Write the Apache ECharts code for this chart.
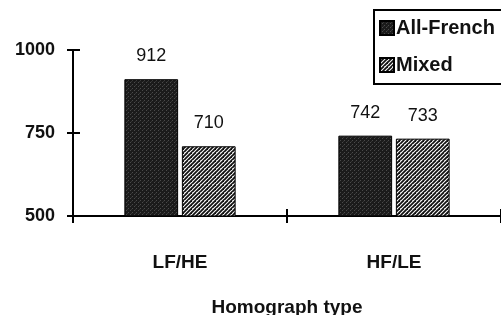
<!DOCTYPE html>
<html>
<head>
<meta charset="utf-8">
<script src="https://cdn.jsdelivr.net/npm/echarts@6/dist/echarts.min.js"></script>
<style>
  html, body { margin: 0; padding: 0; background: #fff; }
  #chart { width: 501px; height: 315px; }
</style>
</head>
<body>
<div id="chart"></div>
<script>
const categories = ['LF/HE', 'HF/LE'];
const allFrench = [912, 742];
const mixed = [710, 733];
const seriesNames = ['All-French', 'Mixed'];
const yMin = 500, yMax = 1000, yStep = 250;

// dark stipple fill
function stipple() {
  const c = document.createElement('canvas');
  c.width = 4; c.height = 4;
  const g = c.getContext('2d');
  g.fillStyle = '#1b1b1b';
  g.fillRect(0, 0, 4, 4);
  g.fillStyle = '#4a4a4a';
  g.fillRect(0, 0, 1, 1);
  g.fillRect(2, 2, 1, 1);
  g.fillStyle = '#333';
  g.fillRect(3, 1, 1, 1);
  return c;
}

// diagonal hatch fill
function hatch() {
  const c = document.createElement('canvas');
  c.width = 8; c.height = 8;
  const g = c.getContext('2d');
  g.fillStyle = '#fff';
  g.fillRect(0, 0, 8, 8);
  g.strokeStyle = '#111';
  g.lineWidth = 1.8;
  for (let k = -8; k <= 16; k += 4) {
    g.beginPath();
    g.moveTo(k - 8, 8 + 8);
    g.lineTo(k + 8, 8 - 8);
    g.stroke();
  }
  return c;
}

const font = '"Liberation Sans", Arial, sans-serif';
const chart = echarts.init(document.getElementById('chart'));

chart.setOption({
  animation: false,
  backgroundColor: '#fff',
  legend: {
    orient: 'vertical',
    left: 374, top: 10,
    padding: [8, 20, 9, 5],
    itemGap: 17,
    itemWidth: 14, itemHeight: 14,
    icon: 'rect',
    borderColor: '#000', borderWidth: 2,
    data: seriesNames,
    textStyle: { fontFamily: font, fontWeight: 'bold', fontSize: 20, color: '#111',
                 padding: [0, 0, 0, -3] }
  },
  grid: { left: 73, right: 0, top: 50, bottom: 99, containLabel: false, outerBoundsMode: 'none' },
  xAxis: [{
    type: 'category',
    data: categories,
    name: 'Homograph type',
    nameLocation: 'middle',
    nameGap: 82,
    nameTextStyle: { fontFamily: font, fontWeight: 'bold', fontSize: 19, color: '#111' },
    axisLine: { lineStyle: { color: '#000', width: 2 } },
    axisTick: { show: true, length: 7, lineStyle: { color: '#000', width: 2 } },
    axisLabel: { margin: 37, fontFamily: font, fontWeight: 'bold', fontSize: 19, color: '#111' }
  }, {
    type: 'category',
    data: categories,
    position: 'bottom',
    axisLine: { show: false },
    axisTick: { show: true, inside: true, length: 7, lineStyle: { color: '#000', width: 2 } },
    axisLabel: { show: false }
  }],
  yAxis: [{
    type: 'value',
    min: yMin, max: yMax, interval: yStep,
    splitLine: { show: false },
    axisLine: { show: true, lineStyle: { color: '#000', width: 2 } },
    axisTick: { show: true, length: 6, lineStyle: { color: '#000', width: 2 } },
    axisLabel: { margin: 18, fontFamily: font, fontWeight: 'bold', fontSize: 18, color: '#111',
                 formatter: v => String(v) }
  }, {
    type: 'value',
    position: 'left',
    min: yMin, max: yMax, interval: yStep,
    splitLine: { show: false },
    axisLine: { show: false },
    axisTick: { show: true, inside: true, length: 7, lineStyle: { color: '#000', width: 2 } },
    axisLabel: { show: false }
  }],
  series: [{
    name: seriesNames[0],
    type: 'bar',
    data: allFrench,
    barGap: '7%',
    barCategoryGap: '48%',
    itemStyle: { color: { image: stipple(), repeat: 'repeat' }, borderColor: '#000', borderWidth: 1 },
    label: { show: true, position: 'top', distance: 14, fontFamily: font, fontSize: 18, color: '#111' }
  }, {
    name: seriesNames[1],
    type: 'bar',
    data: mixed,
    itemStyle: { color: { image: hatch(), repeat: 'repeat' }, borderColor: '#000', borderWidth: 1 },
    label: { show: true, position: 'top', distance: 14, fontFamily: font, fontSize: 18, color: '#111' }
  }]
});
</script>
</body>
</html>
